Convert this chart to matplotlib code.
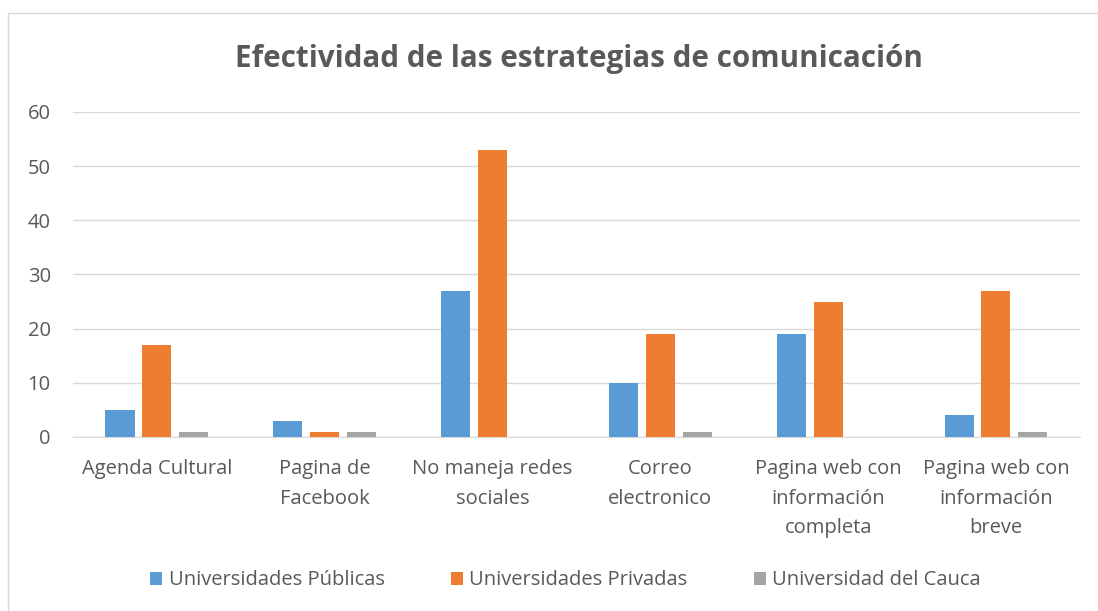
import matplotlib.pyplot as plt
import numpy as np
from matplotlib.patches import Rectangle

categories = [
    "Agenda Cultural",
    "Pagina de\nFacebook",
    "No maneja redes\nsociales",
    "Correo\nelectronico",
    "Pagina web con\ninformación\ncompleta",
    "Pagina web con\ninformación\nbreve",
]
series_names = ["Universidades Públicas", "Universidades Privadas", "Universidad del Cauca"]
publicas = [5, 3, 27, 10, 19, 4]
privadas = [17, 1, 53, 19, 25, 27]
cauca = [1, 1, 0, 1, 0, 1]
y_ticks = [0, 10, 20, 30, 40, 50, 60]

colors = ["#5B9BD5", "#ED7D31", "#A5A5A5"]
text_color = "#595959"

plt.rcParams["font.family"] = ["Open Sans", "DejaVu Sans"]

fig = plt.figure(figsize=(10.98, 6.11), dpi=100)
ax = fig.add_axes([0.0665, 0.2848, 0.917, 0.5319])

# chart border (only left/top edges visible in the crop)
fig.patches.append(Rectangle((8 / 1098, -0.05), 1.1, 1 - 13 / 611 + 0.05,
                             transform=fig.transFigure, fill=False,
                             edgecolor="#D9D9D9", linewidth=1))

x = np.arange(len(categories))
width = 0.173
step = 0.22
for i, (vals, name) in enumerate(zip([publicas, privadas, cauca], series_names)):
    ax.bar(x + (i - 1) * step, vals, width, color=colors[i], label=name, zorder=3)

ax.set_xlim(-0.5, len(categories) - 0.5)
ax.set_ylim(0, 60)
ax.set_yticks(y_ticks)
ax.yaxis.grid(True, color="#D9D9D9", linewidth=1, zorder=0)
for s in ["top", "right", "left"]:
    ax.spines[s].set_visible(False)
ax.spines["bottom"].set_color("#D9D9D9")
ax.tick_params(axis="both", length=0, colors=text_color, labelsize=14.5)
ax.tick_params(axis="y", pad=16)
ax.tick_params(axis="x", pad=16)
ax.set_xticks(x)
ax.set_xticklabels(categories, linespacing=1.62)

fig.text(0.527, 0.903, "Efectividad de las estrategias de comunicación",
         ha="center", va="center", fontsize=21.3, fontweight="bold", color=text_color)

ax.legend(loc="center", bbox_to_anchor=(0.515, 0.05), bbox_transform=fig.transFigure,
          ncol=3, frameon=False, fontsize=14.5, labelcolor=text_color,
          handlelength=0.6, handleheight=0.6, handletextpad=0.3, columnspacing=3.3)

fig.savefig("out.png", dpi=100)
